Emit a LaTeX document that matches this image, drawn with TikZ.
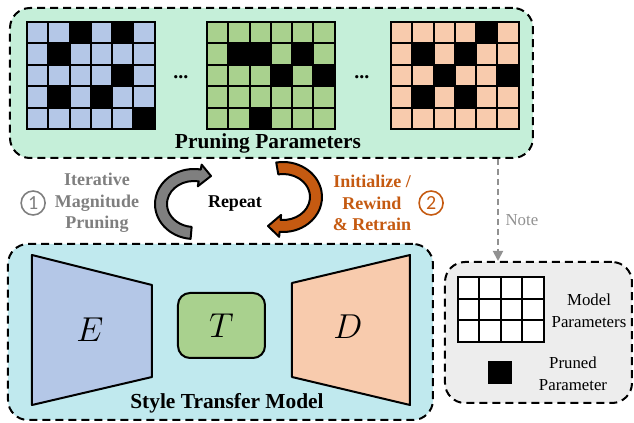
\documentclass[tikz,border=0pt]{standalone}
\usepackage{fontspec}
\setmainfont{Liberation Serif}
\newfontfamily\numfont{Carlito}
\usetikzlibrary{arrows.meta,positioning}

\definecolor{mintbg}{RGB}{197,239,217}
\definecolor{cyanbg}{RGB}{192,233,238}
\definecolor{notebg}{RGB}{237,237,237}
\definecolor{encblue}{RGB}{180,199,231}
\definecolor{trgreen}{RGB}{169,209,142}
\definecolor{decorange}{RGB}{248,203,173}
\definecolor{impgray}{RGB}{127,127,127}
\definecolor{notegray}{RGB}{145,145,145}
\definecolor{rworange}{RGB}{197,90,17}

% 6x5 weight matrix: #1,#2 top left, #3 colour, #4 pruned cells as col/row
\newcommand{\parammatrix}[4]{%
  \foreach \c in {0,...,5}
    \foreach \r in {0,...,4}
      \draw[cell, fill=#3] (#1+\c*21.3, #2+\r*21.4) rectangle ++(21.3,21.4);
  \foreach \c/\r in {#4}
    \draw[cell, fill=black] (#1+\c*21.3, #2+\r*21.4) rectangle ++(21.3,21.4);
}

\begin{document}
\begin{tikzpicture}[x=0.5pt, y=-0.5pt,
    panel/.style={draw, line width=1pt, dash pattern=on 4pt off 2.5pt,
                  rounded corners=10pt, inner sep=0pt},
    cell/.style={draw=black, line width=1pt},
    block/.style={draw=black, line width=1pt, line join=round},
    title/.style={font=\fontsize{10.7}{12}\selectfont\bfseries},
    stagelabel/.style={font=\fontsize{9}{10.75}\selectfont\bfseries, align=center},
    stagenum/.style={draw, circle, line width=0.8pt, minimum size=12pt,
                     inner sep=0pt, font=\numfont\fontsize{10}{10}\selectfont},
    legend/.style={font=\fontsize{8.4}{11}\selectfont, align=center}]

  \useasboundingbox (0,0) rectangle (634,423);

  % panels
  \node[panel, fill=mintbg, minimum width=261.5pt, minimum height=75pt] (prune) at (271.5,83) {};
  \node[panel, fill=cyanbg, minimum width=212.5pt, minimum height=88pt] (model) at (220.5,332) {};
  \node[panel, fill=notebg, minimum width=93.5pt, minimum height=70.5pt] (note) at (538.5,332.5) {};

  % pruned weight matrices
  \parammatrix{27}{22}{encblue}{2/0,4/0,1/1,4/2,1/3,3/3,5/4}
  \parammatrix{207}{22}{trgreen}{1/1,2/1,4/1,3/2,5/2,2/4}
  \parammatrix{391}{22}{decorange}{4/0,1/1,3/1,2/2,5/2,1/3,3/3}
  \node[anchor=base, font=\fontsize{10}{10}\selectfont\bfseries] (dotsa) at (181,78) {...};
  \node[anchor=base, font=\fontsize{10}{10}\selectfont\bfseries] (dotsb) at (362,78) {...};
  \node[title] (prunetitle) at (268,143) {Pruning Parameters};

  % repeat loop
  \begin{scope}[shift={(194,204)}]
    \draw[block, fill=impgray] (95:39 and 35)
      arc[start angle=95, end angle=280, x radius=39, y radius=35]
      -- (280:44 and 40) -- (17,-28) -- (280:22 and 18) -- (280:27 and 23)
      arc[start angle=280, end angle=95, x radius=27, y radius=23] -- cycle;
  \end{scope}
  \begin{scope}[shift={(283,197)}]
    \draw[block, fill=rworange] (260:39 and 35)
      arc[start angle=260, end angle=455, x radius=39, y radius=35]
      -- (95:44 and 40) -- (-15,29) -- (95:22 and 18) -- (95:27 and 23)
      arc[start angle=455, end angle=260, x radius=27, y radius=23] -- cycle;
  \end{scope}
  \node[font=\fontsize{9}{10}\selectfont\bfseries] (repeat) at (235,204) {Repeat};

  \node[stagelabel, text=impgray] (imp) at (97,203) {Iterative\\Magnitude\\Pruning};
  \node[stagenum, draw=impgray, text=impgray] (one) [left=1pt of imp] {1};
  \node[stagelabel, text=rworange] (rewind) at (372,203) {Initialize /\\Rewind\\\& Retrain};
  \node[stagenum, draw=rworange, text=rworange] (two) [right=0pt of rewind] {2};

  % encoder, transformer, decoder
  \draw[block, fill=encblue] (32,255) -- (152,285) -- (152,377) -- (32,405) -- cycle;
  \node[font=\fontsize{16}{16}\selectfont] (enc) at (90,330) {$E$};
  \node[draw, line width=1pt, fill=trgreen, rounded corners=6pt, minimum width=43.5pt,
        minimum height=32.5pt, font=\fontsize{16}{16}\selectfont] (tr) at (221.5,325.5) {$T$};
  \draw[block, fill=decorange] (292,283) -- (410,255) -- (410,405) -- (292,377) -- cycle;
  \node[font=\fontsize{16}{16}\selectfont] (dec) at (348,327) {$D$};
  \node[title] (modeltitle) at (227,403) {Style Transfer Model};

  % legend
  \foreach \c in {0,...,3}
    \foreach \r in {0,...,2}
      \draw[cell, fill=white] (458+\c*21.5, 277+\r*21.7) rectangle ++(21.5,21.7);
  \fill (488,361) rectangle (512,384);
  \node[legend] (legmodel) at (589,311) {Model\\Parameters};
  \node[legend] (legpruned) at (573,374) {Pruned\\Parameter};

  \draw[notegray, line width=0.9pt, dash pattern=on 3pt off 2pt,
        -{Triangle[length=5pt, width=5pt]}]
    ([xshift=-18pt]prune.south east) -- ([xshift=-18pt]prune.south east |- note.north)
    node[pos=0.6, right, legend, text=notegray] (notelbl) {Note};
\end{tikzpicture}
\end{document}
